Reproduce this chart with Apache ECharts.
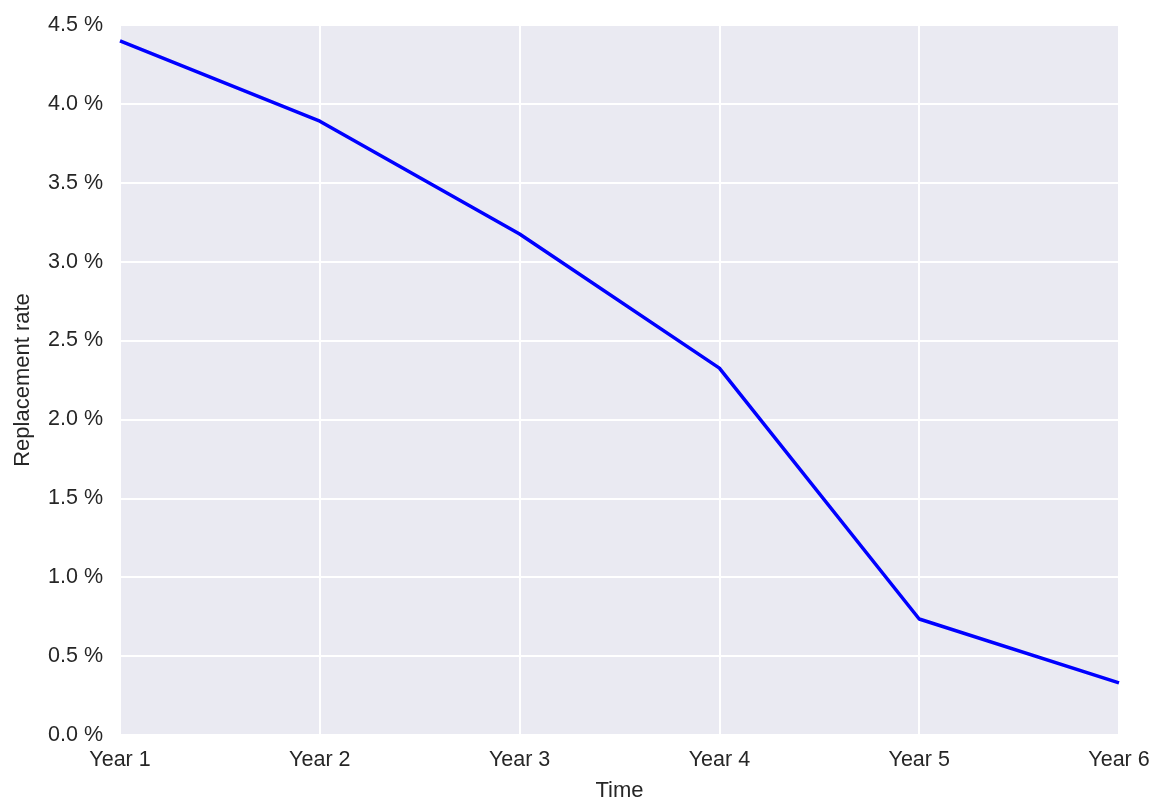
<!DOCTYPE html>
<html><head><meta charset="utf-8">
<script src="https://cdn.jsdelivr.net/npm/echarts@6/dist/echarts.min.js"></script>
<style>html,body{margin:0;padding:0;background:#fff}#c{width:1155px;height:800px}</style>
</head><body><div id="c"></div>
<script>
const categories = ['Year 1','Year 2','Year 3','Year 4','Year 5','Year 6'];
const replacementRate = [4.40, 3.89, 3.175, 2.325, 0.735, 0.33];
const chart = echarts.init(document.getElementById('c'));
const font = 'Arial, "Liberation Sans", sans-serif';
chart.setOption({
  animation:false,
  grid:{left:120,right:36,top:25,bottom:65,show:true,backgroundColor:'#EAEAF2',borderWidth:0,
    containLabel:false,outerBoundsMode:'none'},
  xAxis:{type:'category',data:categories,boundaryGap:false,
    name:'Time',nameLocation:'middle',nameGap:45,
    nameTextStyle:{fontSize:22,color:'#262626',fontFamily:font},
    axisLine:{show:false},axisTick:{show:false},
    axisLabel:{fontSize:21.5,color:'#262626',fontFamily:font,margin:14},
    splitLine:{show:true,lineStyle:{color:'#ffffff',width:2}}},
  yAxis:{type:'value',min:0,max:4.5,interval:0.5,
    name:'Replacement rate',nameLocation:'middle',nameGap:86,nameRotate:90,
    nameTextStyle:{fontSize:22,color:'#262626',fontFamily:font},
    axisLine:{show:false},axisTick:{show:false},
    axisLabel:{fontSize:21.5,color:'#262626',fontFamily:font,margin:17,
      formatter:v=>v.toFixed(1)+' %'},
    splitLine:{show:true,lineStyle:{color:'#ffffff',width:2}}},
  series:[{type:'line',data:replacementRate,symbol:'none',
    lineStyle:{color:'#0000FF',width:3.5},itemStyle:{color:'#0000FF'}}]
});
</script></body></html>
